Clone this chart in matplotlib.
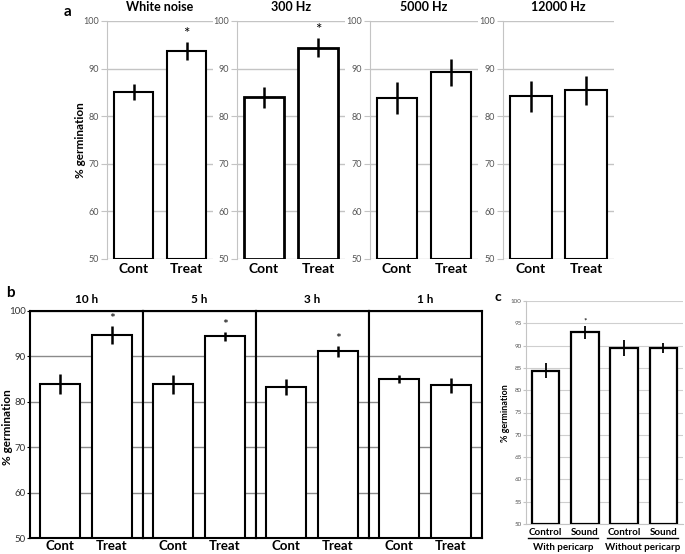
import matplotlib
matplotlib.use("Agg")
import matplotlib.pyplot as plt
from matplotlib.lines import Line2D

plt.rcParams['font.family'] = ['Lato', 'DejaVu Sans']

W, H = 685, 554

# ---------------- data ----------------
a_titles = ["White noise", "300 Hz", "5000 Hz", "12000 Hz"]
a_cont = [85.1, 84.0, 83.8, 84.2]
a_cont_err = [1.6, 2.2, 3.3, 3.3]
a_treat = [93.7, 94.4, 89.2, 85.4]
a_treat_err = [1.9, 2.0, 2.8, 3.0]
a_sig = [True, True, False, False]

b_titles = ["10 h", "5 h", "3 h", "1 h"]
b_cont = [83.9, 83.9, 83.2, 85.0]
b_cont_err = [2.2, 2.1, 1.8, 0.95]
b_treat = [94.8, 94.4, 91.1, 83.6]
b_treat_err = [2.0, 1.0, 1.3, 1.75]
b_sig = [True, True, True, False]

ab_xlabels = ["Cont", "Treat"]

c_labels = ["Control", "Sound", "Control", "Sound"]
c_groups = ["With pericarp", "Without pericarp"]
c_vals = [84.4, 93.0, 89.4, 89.4]
c_err = [1.7, 1.5, 1.8, 1.1]
c_sig = [False, True, False, False]

a_ticks = [50, 60, 70, 80, 90, 100]
c_ticks = [50, 55, 60, 65, 70, 75, 80, 85, 90, 95, 100]


def px_axes(fig, left, top, right, bottom):
    return fig.add_axes([left / W, 1 - bottom / H, (right - left) / W, (bottom - top) / H])


def ftext(fig, x, y, s, **kw):
    return fig.text(x / W, 1 - y / H, s, **kw)


fig = plt.figure(figsize=(W / 100, H / 100), dpi=100)

# ---------------- panel a ----------------
a_lefts = [107, 237, 370, 503]
a_rights = [213, 345, 478, 614]
for i in range(4):
    ax = px_axes(fig, a_lefts[i], 21, a_rights[i], 259)
    vals = [a_cont[i], a_treat[i]]
    errs = [a_cont_err[i], a_treat_err[i]]
    lw = 2.0 if i == 1 else 1.5
    ax.bar([0, 1], [v - 50 for v in vals], bottom=50, width=0.75, color='white',
           edgecolor='black', linewidth=lw, zorder=3)
    ax.errorbar([0, 1], vals, yerr=errs, fmt='none', ecolor='black', elinewidth=1.8,
                capsize=0, zorder=4)
    if a_sig[i]:
        ax.text(1, vals[1] + errs[1] + 0.2, "*", ha='center', va='bottom', fontsize=11)
    ax.set_xlim(-0.5, 1.5)
    ax.set_ylim(50, 100)
    ax.set_yticks(a_ticks)
    ax.yaxis.grid(True, color='#c4c4c4', linewidth=1.0, zorder=0)
    ax.set_axisbelow(True)
    for s in ['top', 'right', 'bottom']:
        ax.spines[s].set_visible(False)
    ax.spines['left'].set_color('#c4c4c4')
    ax.tick_params(axis='y', length=4, color='#c4c4c4', labelsize=6.5, labelcolor='#555555', pad=2)
    ax.set_xticks([0, 1])
    ax.set_xticklabels(ab_xlabels, fontsize=10, fontweight='bold')
    ax.tick_params(axis='x', length=0, pad=3)
    ax.set_title(a_titles[i], fontsize=9, fontweight='bold', pad=7)

ftext(fig, 67, 12, "a", fontsize=11, fontweight='bold', ha='center', va='center')
ftext(fig, 80, 140, "% germination", fontsize=8.5, fontweight='bold', rotation=90,
      ha='center', va='center')

# ---------------- panel b ----------------
b_edges = [30, 143, 256, 369, 482]
for i in range(4):
    ax = px_axes(fig, b_edges[i], 311, b_edges[i + 1], 538)
    vals = [b_cont[i], b_treat[i]]
    errs = [b_cont_err[i], b_treat_err[i]]
    ax.bar([0, 1], [v - 50 for v in vals], bottom=50, width=0.77, color='white',
           edgecolor='black', linewidth=1.5, zorder=3)
    ax.errorbar([0, 1], vals, yerr=errs, fmt='none', ecolor='black', elinewidth=1.8,
                capsize=0, zorder=4)
    if b_sig[i]:
        ax.text(1, vals[1] + errs[1] + 0.1, "*", ha='center', va='bottom', fontsize=10)
    ax.set_xlim(-0.58, 1.6)
    ax.set_ylim(50, 100)
    ax.set_yticks(a_ticks)
    ax.yaxis.grid(True, color='#8a8a8a', linewidth=1.0, zorder=0)
    ax.set_axisbelow(True)
    for s in ax.spines.values():
        s.set_color('black')
        s.set_linewidth(1.5)
    ax.set_xticks([0, 1])
    ax.set_xticklabels(ab_xlabels, fontsize=9.5, fontweight='bold')
    ax.tick_params(axis='x', length=0, pad=1.5)
    if i == 0:
        ax.tick_params(axis='y', length=2, labelsize=7, labelcolor='#333333', pad=1)
    else:
        ax.tick_params(axis='y', length=0, labelleft=False)
    ax.set_title(b_titles[i], fontsize=8.5, fontweight='bold', pad=6)

ftext(fig, 10, 293, "b", fontsize=11, fontweight='bold', ha='center', va='center')
ftext(fig, 8, 427, "% germination", fontsize=8.5, fontweight='bold', rotation=90,
      ha='center', va='center')

# ---------------- panel c ----------------
ax = px_axes(fig, 526, 301, 683, 524)
xs = list(range(len(c_vals)))
ax.bar(xs, [v - 50 for v in c_vals], bottom=50, width=0.7, color='white',
       edgecolor='black', linewidth=1.6, zorder=3)
ax.errorbar(xs, c_vals, yerr=c_err, fmt='none', ecolor='black', elinewidth=1.3,
            capsize=0, zorder=4)
for x, v, e, s in zip(xs, c_vals, c_err, c_sig):
    if s:
        ax.text(x, v + e + 0.2, "*", ha='center', va='bottom', fontsize=6)
ax.set_xlim(-0.5, 3.5)
ax.set_ylim(50, 100)
ax.set_yticks(c_ticks)
ax.yaxis.grid(True, color='#cfcfcf', linewidth=0.8, zorder=0)
ax.set_axisbelow(True)
for s in ['top', 'right']:
    ax.spines[s].set_visible(False)
ax.spines['left'].set_color('#c4c4c4')
ax.spines['bottom'].set_color('#c4c4c4')
ax.tick_params(axis='y', length=2, color='#c4c4c4', labelsize=4.5, labelcolor='#555555', pad=1)
ax.set_xticks(xs)
ax.set_xticklabels(c_labels, fontsize=7, fontweight='bold')
ax.tick_params(axis='x', length=0, pad=3)

ftext(fig, 498, 297, "c", fontsize=10, fontweight='bold', ha='center', va='center')
ftext(fig, 505, 413, "% germination", fontsize=6.5, fontweight='bold', rotation=90,
      ha='center', va='center')

group_spans = [(528, 598), (607, 678)]
for (x0, x1), g in zip(group_spans, c_groups):
    fig.add_artist(Line2D([x0 / W, x1 / W], [1 - 538 / H, 1 - 538 / H],
                          color='black', linewidth=1.0, transform=fig.transFigure))
    ftext(fig, (x0 + x1) / 2, 547, g, fontsize=7, fontweight='bold', ha='center', va='center')

fig.savefig("out.png", dpi=100)
